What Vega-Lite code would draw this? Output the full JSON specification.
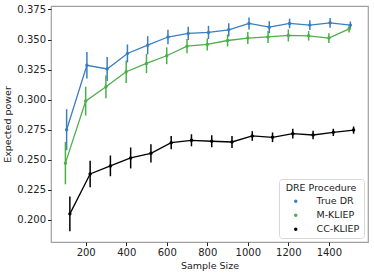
{
  "$schema": "https://vega.github.io/schema/vega-lite/v6.json",
  "width": 317,
  "height": 236,
  "autosize": "none",
  "padding": {"left": 51, "top": 6, "right": 6, "bottom": 33},
  "background": "white",
  "config": {
    "font": "DejaVu Sans",
    "view": {"stroke": "#a0a0a0", "strokeWidth": 1.2},
    "axis": {"domain": false, "grid": false, "tickColor": "#222", "tickSize": 3.5, "labelFontSize": 10, "labelColor": "#222", "titleFontSize": 9.5, "titleFontWeight": "normal", "titleColor": "#222", "labelPadding": 2},
    "legend": {"orient": "bottom-right", "offset": 4, "strokeColor": "#d8d8d8", "fillColor": "white", "padding": 4, "cornerRadius": 3,
               "titleFontWeight": "normal", "titleFontSize": 9.5, "titleColor": "#222", "titleAnchor": "middle",
               "labelFontSize": 9.5, "labelColor": "#222", "symbolType": "circle", "symbolSize": 12, "symbolStrokeWidth": 0,
               "labelOffset": 16, "rowPadding": 3, "symbolOffset": 8, "titlePadding": 4}
  },
  "data": {"values": [
    {"procedure": "True DR", "sample_size": 106, "power": 0.275, "lo": 0.258, "hi": 0.292},
    {"procedure": "True DR", "sample_size": 206, "power": 0.3286, "lo": 0.3176, "hi": 0.3396},
    {"procedure": "True DR", "sample_size": 306, "power": 0.3255, "lo": 0.3155, "hi": 0.3355},
    {"procedure": "True DR", "sample_size": 406, "power": 0.3384, "lo": 0.3309, "hi": 0.3459},
    {"procedure": "True DR", "sample_size": 506, "power": 0.3453, "lo": 0.3378, "hi": 0.3528},
    {"procedure": "True DR", "sample_size": 606, "power": 0.3521, "lo": 0.3461, "hi": 0.3581},
    {"procedure": "True DR", "sample_size": 706, "power": 0.3551, "lo": 0.3496, "hi": 0.3606},
    {"procedure": "True DR", "sample_size": 806, "power": 0.3559, "lo": 0.3504, "hi": 0.3614},
    {"procedure": "True DR", "sample_size": 906, "power": 0.3581, "lo": 0.3526, "hi": 0.3636},
    {"procedure": "True DR", "sample_size": 1006, "power": 0.3634, "lo": 0.3584, "hi": 0.3684},
    {"procedure": "True DR", "sample_size": 1106, "power": 0.3603, "lo": 0.3553, "hi": 0.3653},
    {"procedure": "True DR", "sample_size": 1206, "power": 0.3634, "lo": 0.3594, "hi": 0.3674},
    {"procedure": "True DR", "sample_size": 1306, "power": 0.362, "lo": 0.358, "hi": 0.366},
    {"procedure": "True DR", "sample_size": 1406, "power": 0.3639, "lo": 0.3599, "hi": 0.3679},
    {"procedure": "True DR", "sample_size": 1506, "power": 0.362, "lo": 0.359, "hi": 0.365},
    {"procedure": "M-KLIEP", "sample_size": 100, "power": 0.2472, "lo": 0.2296, "hi": 0.2648},
    {"procedure": "M-KLIEP", "sample_size": 200, "power": 0.2988, "lo": 0.2868, "hi": 0.3108},
    {"procedure": "M-KLIEP", "sample_size": 300, "power": 0.3107, "lo": 0.3012, "hi": 0.3202},
    {"procedure": "M-KLIEP", "sample_size": 400, "power": 0.3232, "lo": 0.3139, "hi": 0.3325},
    {"procedure": "M-KLIEP", "sample_size": 500, "power": 0.3301, "lo": 0.3221, "hi": 0.3381},
    {"procedure": "M-KLIEP", "sample_size": 600, "power": 0.3365, "lo": 0.3295, "hi": 0.3435},
    {"procedure": "M-KLIEP", "sample_size": 700, "power": 0.3445, "lo": 0.3385, "hi": 0.3505},
    {"procedure": "M-KLIEP", "sample_size": 800, "power": 0.3459, "lo": 0.3409, "hi": 0.3509},
    {"procedure": "M-KLIEP", "sample_size": 900, "power": 0.3492, "lo": 0.3442, "hi": 0.3542},
    {"procedure": "M-KLIEP", "sample_size": 1000, "power": 0.3512, "lo": 0.3462, "hi": 0.3562},
    {"procedure": "M-KLIEP", "sample_size": 1100, "power": 0.3522, "lo": 0.3472, "hi": 0.3572},
    {"procedure": "M-KLIEP", "sample_size": 1200, "power": 0.3534, "lo": 0.3484, "hi": 0.3584},
    {"procedure": "M-KLIEP", "sample_size": 1300, "power": 0.3531, "lo": 0.3491, "hi": 0.3571},
    {"procedure": "M-KLIEP", "sample_size": 1400, "power": 0.3512, "lo": 0.3472, "hi": 0.3552},
    {"procedure": "M-KLIEP", "sample_size": 1500, "power": 0.3589, "lo": 0.3559, "hi": 0.3619},
    {"procedure": "CC-KLIEP", "sample_size": 122, "power": 0.205, "lo": 0.1905, "hi": 0.2195},
    {"procedure": "CC-KLIEP", "sample_size": 222, "power": 0.2382, "lo": 0.2272, "hi": 0.2492},
    {"procedure": "CC-KLIEP", "sample_size": 322, "power": 0.2449, "lo": 0.2363, "hi": 0.2535},
    {"procedure": "CC-KLIEP", "sample_size": 422, "power": 0.2515, "lo": 0.2428, "hi": 0.2602},
    {"procedure": "CC-KLIEP", "sample_size": 522, "power": 0.2554, "lo": 0.2478, "hi": 0.263},
    {"procedure": "CC-KLIEP", "sample_size": 622, "power": 0.2642, "lo": 0.2587, "hi": 0.2697},
    {"procedure": "CC-KLIEP", "sample_size": 722, "power": 0.2662, "lo": 0.2612, "hi": 0.2712},
    {"procedure": "CC-KLIEP", "sample_size": 822, "power": 0.2654, "lo": 0.2604, "hi": 0.2704},
    {"procedure": "CC-KLIEP", "sample_size": 922, "power": 0.2648, "lo": 0.2598, "hi": 0.2698},
    {"procedure": "CC-KLIEP", "sample_size": 1022, "power": 0.2698, "lo": 0.2658, "hi": 0.2738},
    {"procedure": "CC-KLIEP", "sample_size": 1122, "power": 0.2687, "lo": 0.2647, "hi": 0.2727},
    {"procedure": "CC-KLIEP", "sample_size": 1222, "power": 0.2717, "lo": 0.2677, "hi": 0.2757},
    {"procedure": "CC-KLIEP", "sample_size": 1322, "power": 0.2706, "lo": 0.2671, "hi": 0.2741},
    {"procedure": "CC-KLIEP", "sample_size": 1422, "power": 0.2728, "lo": 0.2698, "hi": 0.2758},
    {"procedure": "CC-KLIEP", "sample_size": 1522, "power": 0.2747, "lo": 0.2717, "hi": 0.2777}
  ]},
  "encoding": {
    "x": {"field": "sample_size", "type": "quantitative", "title": "Sample Size",
          "scale": {"domain": [28.9, 1593.1], "nice": false, "zero": false},
          "axis": {"values": [200, 400, 600, 800, 1000, 1200, 1400], "format": "d", "titlePadding": 3}},
    "color": {"field": "procedure", "type": "nominal", "title": "DRE Procedure",
              "scale": {"domain": ["True DR", "M-KLIEP", "CC-KLIEP"], "range": ["#3a7ec0", "#4daf4a", "#000000"]}}
  },
  "layer": [
    {
      "mark": {"type": "rule", "strokeWidth": 1.5},
      "encoding": {
        "y": {"field": "lo", "type": "quantitative", "title": "Expected power",
              "scale": {"domain": [0.1816, 0.3779], "nice": false, "zero": false},
              "axis": {"values": [0.2, 0.225, 0.25, 0.275, 0.3, 0.325, 0.35, 0.375], "format": ".3f", "titlePadding": 4}},
        "y2": {"field": "hi"}
      }
    },
    {
      "mark": {"type": "line", "strokeWidth": 1.3},
      "encoding": {
        "y": {"field": "power", "type": "quantitative", "title": "Expected power",
              "scale": {"domain": [0.1816, 0.3779], "nice": false, "zero": false},
              "axis": {"values": [0.2, 0.225, 0.25, 0.275, 0.3, 0.325, 0.35, 0.375], "format": ".3f", "titlePadding": 4}}
      }
    },
    {
      "mark": {"type": "point", "filled": true, "opacity": 1, "size": 12},
      "encoding": {
        "y": {"field": "power", "type": "quantitative", "title": "Expected power",
              "scale": {"domain": [0.1816, 0.3779], "nice": false, "zero": false},
              "axis": {"values": [0.2, 0.225, 0.25, 0.275, 0.3, 0.325, 0.35, 0.375], "format": ".3f", "titlePadding": 4}}
      }
    }
  ]
}
